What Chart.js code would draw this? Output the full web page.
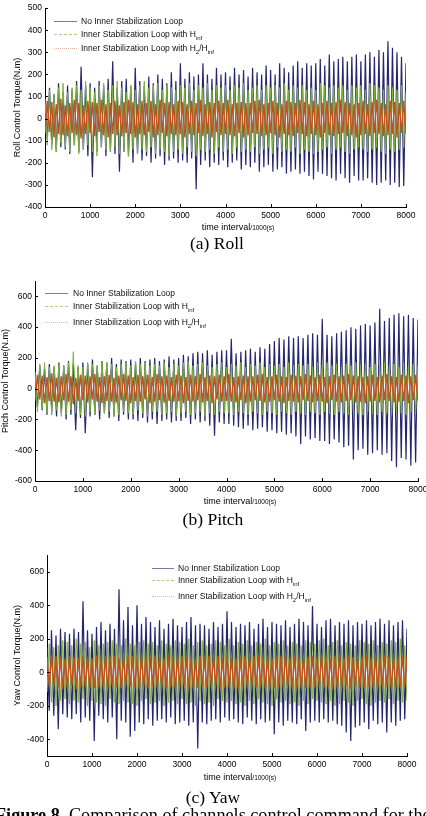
<!DOCTYPE html>
<html>
<head>
<meta charset="utf-8">
<script src="https://cdn.jsdelivr.net/npm/chart.js@4.4.0/dist/chart.umd.min.js"></script>
<style>
  html, body { margin: 0; padding: 0; background: #fff; }
  body { width: 426px; height: 816px; overflow: hidden; position: relative;
         font-family: "Liberation Sans", Arial, sans-serif; color: #000; }
  canvas { position: absolute; left: 0; }
  .xtitle { position: absolute; font-size: 9px; white-space: nowrap; transform: translate(-50%, -50%); }
  .xtitle small { font-size: 6.5px; }
  .caption { position: absolute; font-family: "Liberation Serif", "Times New Roman", serif;
             font-size: 17.5px; white-space: nowrap; transform: translate(-50%, -50%); }
  .figcap { position: absolute; left: -5px; top: 805px; line-height: 20px; white-space: nowrap;
            font-family: "Liberation Serif", "Times New Roman", serif; font-size: 18.2px; }
  .lg { position: absolute; font-size: 8.5px; line-height: 10px; white-space: nowrap; color: #111; }
  .sw { position: absolute; height: 0; }
  .lg sub { font-size: 6px; vertical-align: -3px; line-height: 0; }
</style>
</head>
<body>
<canvas id="rollChart" width="426" height="227" style="top:0px"></canvas>
<canvas id="pitchChart" width="440" height="231" style="top:270px"></canvas>
<canvas id="yawChart" width="426" height="231" style="top:545px"></canvas>

<!-- legends -->
<div class="sw" style="left:54px;top:21px;width:23px;border-top:1px solid #7a7aa2"></div>
<div class="lg" style="left:81px;top:16px">No Inner Stabilization Loop</div>
<div class="sw" style="left:54px;top:34px;width:23px;border-top:1px dashed #bcc68e"></div>
<div class="lg" style="left:81px;top:29px">Inner Stabilization Loop with H<sub>inf</sub></div>
<div class="sw" style="left:54px;top:48px;width:23px;border-top:1px dotted #e0b4a4"></div>
<div class="lg" style="left:81px;top:43px">Inner Stabilization Loop with H<sub>2</sub>/H<sub>inf</sub></div>

<div class="sw" style="left:45px;top:293px;width:23px;border-top:1px solid #7a7aa2"></div>
<div class="lg" style="left:73px;top:288px">No Inner Stabilization Loop</div>
<div class="sw" style="left:45px;top:306px;width:23px;border-top:1px dashed #bcc68e"></div>
<div class="lg" style="left:73px;top:301px">Inner Stabilization Loop with H<sub>inf</sub></div>
<div class="sw" style="left:45px;top:322px;width:23px;border-top:1px dotted #e0b4a4"></div>
<div class="lg" style="left:73px;top:317px">Inner Stabilization Loop with H<sub>2</sub>/H<sub>inf</sub></div>

<div class="sw" style="left:152px;top:568px;width:22px;border-top:1px solid #7a7aa2"></div>
<div class="lg" style="left:178px;top:563px">No Inner Stabilization Loop</div>
<div class="sw" style="left:152px;top:580px;width:22px;border-top:1px dashed #bcc68e"></div>
<div class="lg" style="left:178px;top:575px">Inner Stabilization Loop with H<sub>inf</sub></div>
<div class="sw" style="left:152px;top:596px;width:22px;border-top:1px dotted #e0b4a4"></div>
<div class="lg" style="left:178px;top:591px">Inner Stabilization Loop with H<sub>2</sub>/H<sub>inf</sub></div>

<div class="xtitle" style="left:238px;top:227px">time interval<small>/1000(s)</small></div>
<div class="xtitle" style="left:240px;top:501px">time interval<small>/1000(s)</small></div>
<div class="xtitle" style="left:240px;top:777px">time interval<small>/1000(s)</small></div>

<div class="caption" style="left:217px;top:243px">(a) Roll</div>
<div class="caption" style="left:213px;top:519px">(b) Pitch</div>
<div class="caption" style="left:213px;top:797px">(c) Yaw</div>
<div class="figcap"><b>Figure 8.</b> Comparison of channels control command for the</div>

<script>
// sample times, one every 50 units from 0 to 8000
const sampleTimes = Array.from({ length: 161 }, (_, i) => i * 50);

const timeTicks = [0, 1000, 2000, 3000, 4000, 5000, 6000, 7000, 8000];
const rollTicks = [-400, -300, -200, -100, 0, 100, 200, 300, 400, 500];
const pitchTicks = [-600, -400, -200, 0, 200, 400, 600];
const yawTicks = [-400, -200, 0, 200, 400, 600];

// Roll channel (N.m)
const rollNoLoop = [
  60,-90,140,-120,110,-150,160,-130,120,-140,
  150,-160,130,-120,170,-150,235,-140,150,-170,
  160,-265,140,-150,170,-130,150,-170,180,-150,
  260,-160,140,-240,170,-150,180,-170,150,-200,
  230,-160,170,-190,150,-170,190,-200,160,-180,
  200,-170,180,-210,160,-190,210,-180,170,-200,
  250,-190,180,-200,210,-180,190,-320,200,-210,
  250,-190,200,-220,180,-200,230,-210,200,-190,
  210,-220,190,-200,230,-190,200,-230,220,-210,
  190,-220,230,-200,210,-240,200,-220,240,-210,
  220,-240,200,-230,250,-220,230,-250,210,-240,
  240,-230,260,-250,230,-240,250,-260,240,-275,
  250,-240,270,-250,240,-260,290,-270,260,-280,
  270,-250,280,-270,260,-290,280,-260,290,-280,
  260,-280,290,-270,300,-290,280,-300,310,-290,
  300,-280,350,-300,320,-290,300,-310,280,-305,
  250
];
const rollHinf = [
  90,-120,130,-140,110,-150,140,-110,160,-130,
  120,-150,140,-120,150,-160,130,-140,170,-120,
  140,-150,120,-170,150,-130,160,-140,130,-150,
  150,-130,170,-160,140,-150,120,-170,150,-140,
  130,-160,150,-140,170,-150,140,-130,150,-160,
  160,-140,130,-150,150,-170,140,-150,130,-140,
  150,-160,140,-130,160,-150,130,-170,150,-140,
  140,-150,160,-140,130,-160,150,-130,140,-150,
  150,-140,130,-160,150,-130,140,-150,160,-140,
  130,-150,140,-130,150,-160,130,-140,150,-130,
  140,-160,150,-130,140,-150,160,-140,130,-150,
  150,-130,140,-160,150,-140,130,-150,140,-160,
  130,-150,160,-140,150,-130,140,-160,150,-140,
  140,-130,150,-150,130,-160,150,-140,140,-130,
  150,-140,130,-150,160,-140,150,-130,140,-150,
  130,-160,150,-140,140,-150,130,-140,150,-130,
  120
];
const rollH2Hinf = [
  -70,80,-60,75,-85,65,-70,90,-75,60,
  -80,70,-65,85,-75,70,-90,60,-70,80,
  -65,75,-80,70,-60,85,-75,65,-85,70,
  -70,80,-75,60,-80,75,-65,85,-70,75,
  -85,65,-70,80,-75,70,-60,80,-85,65,
  -75,85,-65,70,-80,75,-70,65,-75,80,
  -70,75,-85,65,-70,80,-75,70,-65,85,
  -80,65,-70,75,-85,70,-60,80,-75,70,
  -70,85,-75,65,-80,70,-65,75,-85,70,
  -75,70,-65,80,-70,85,-80,65,-75,70,
  -65,80,-75,70,-85,65,-70,80,-75,75,
  -80,70,-65,85,-70,75,-80,65,-70,80,
  -75,65,-85,70,-65,80,-75,70,-80,75,
  -70,85,-65,75,-80,70,-75,65,-85,70,
  -75,80,-70,65,-80,75,-65,85,-70,70,
  -80,65,-75,80,-70,75,-85,70,-65,80,
  -70
];

// Pitch channel (N.m)
const pitchNoLoop = [
  80,-120,150,-140,130,-170,160,-150,140,-180,
  170,-160,150,-200,180,-170,160,-270,140,-190,
  170,-290,160,-180,190,-170,150,-200,180,-160,
  170,-190,200,-180,160,-210,190,-170,180,-200,
  190,-200,170,-210,200,-190,180,-220,190,-200,
  200,-230,180,-210,190,-200,210,-220,190,-210,
  200,-210,220,-190,210,-230,230,-200,240,-220,
  230,-210,250,-240,220,-305,240,-220,250,-230,
  250,-230,325,-240,230,-250,240,-260,250,-240,
  260,-270,240,-260,270,-250,260,-280,290,-270,
  310,-290,330,-280,320,-300,340,-290,330,-310,
  340,-360,330,-310,350,-330,360,-320,350,-340,
  455,-340,350,-360,340,-330,360,-350,370,-380,
  380,-370,400,-460,390,-400,410,-390,420,-430,
  410,-420,430,-400,520,-430,440,-420,460,-470,
  480,-510,490,-450,470,-460,480,-500,460,-480,
  450
];
const pitchHinf = [
  110,-150,160,-130,170,-160,140,-170,150,-140,
  160,-180,150,-170,170,-140,240,-160,150,-170,
  140,-180,170,-150,160,-170,150,-140,180,-160,
  170,-150,160,-180,140,-170,160,-150,170,-160,
  150,-170,180,-140,160,-160,170,-180,150,-150,
  160,-150,150,-170,170,-160,140,-150,160,-180,
  150,-160,170,-150,180,-170,150,-160,160,-150,
  170,-180,150,-160,140,-170,160,-150,170,-160,
  140,-160,160,-170,150,-150,170,-160,140,-170,
  160,-150,150,-160,170,-170,140,-150,160,-160,
  150,-170,160,-150,140,-160,170,-170,150,-150,
  160,-160,150,-170,160,-150,140,-160,170,-170,
  150,-150,170,-160,150,-170,160,-150,140,-160,
  160,-170,150,-150,170,-160,150,-170,160,-150,
  140,-160,160,-170,150,-150,170,-160,150,-170,
  160,-150,140,-160,170,-170,150,-150,160,-160,
  150
];
const pitchH2Hinf = [
  -80,90,-70,85,-95,75,-80,100,-85,70,
  -90,80,-75,95,-85,80,-100,70,-80,90,
  -75,85,-90,80,-70,95,-85,75,-95,80,
  -80,90,-85,70,-90,85,-75,95,-80,85,
  -95,75,-80,90,-85,80,-70,90,-95,75,
  -85,95,-75,80,-90,85,-80,75,-85,90,
  -80,85,-95,75,-80,90,-85,80,-75,95,
  -90,75,-80,85,-95,80,-70,90,-85,80,
  -80,95,-85,75,-90,80,-75,85,-95,80,
  -85,80,-75,90,-80,95,-90,75,-85,80,
  -75,90,-85,80,-95,75,-80,90,-85,85,
  -90,80,-75,95,-80,85,-90,75,-80,90,
  -85,75,-95,80,-75,90,-85,80,-90,85,
  -80,95,-75,85,-90,80,-85,75,-95,80,
  -85,90,-80,75,-90,85,-75,95,-80,80,
  -90,75,-85,90,-80,85,-95,80,-75,90,
  -80
];

// Yaw channel (N.m)
const yawNoLoop = [
  150,-230,250,-260,220,-340,260,-250,240,-270,
  230,-280,260,-250,240,-300,424,-270,250,-290,
  230,-410,270,-260,300,-280,250,-300,290,-270,
  260,-400,495,-290,310,-300,390,-385,280,-350,
  400,-300,290,-310,330,-280,300,-320,270,-290,
  310,-280,260,-300,290,-270,320,-310,280,-300,
  270,-290,300,-320,330,-300,280,-455,290,-300,
  280,-310,260,-290,300,-280,270,-300,290,-270,
  364,-290,300,-280,270,-300,290,-310,280,-270,
  300,-290,260,-310,290,-280,320,-300,270,-290,
  300,-370,290,-300,280,-320,310,-290,270,-300,
  290,-310,320,-280,300,-350,280,-300,395,-290,
  290,-300,270,-280,310,-300,320,-290,280,-310,
  300,-320,290,-360,310,-410,280,-330,300,-320,
  290,-300,310,-340,280,-290,300,-310,320,-300,
  290,-360,310,-300,280,-320,300,-290,310,-280,
  260
];
const yawHinf = [
  -120,170,-180,150,-200,160,-170,190,-160,180,
  -190,160,-170,200,-180,170,-160,180,-200,150,
  -170,190,-180,160,-190,170,-200,180,-160,190,
  -180,170,-190,160,-170,200,-180,170,-190,160,
  -200,180,-170,190,-160,170,-190,180,-180,160,
  -170,190,-200,170,-180,160,-170,190,-190,180,
  -160,170,-190,200,-180,160,-200,180,-170,190,
  -190,160,-180,170,-200,190,-160,180,-170,160,
  -180,200,-170,160,-190,180,-180,170,-200,190,
  -170,160,-190,180,-160,170,-180,200,-190,160,
  -200,180,-160,170,-180,190,-170,160,-190,180,
  -180,170,-200,160,-170,190,-190,180,-160,170,
  -170,190,-180,200,-190,160,-170,180,-200,190,
  -190,160,-170,180,-180,170,-200,160,-170,190,
  -160,180,-190,170,-200,190,-180,160,-170,180,
  -180,170,-160,190,-190,180,-170,200,-180,160,
  -170
];
const yawH2Hinf = [
  90,-85,100,-80,95,-90,85,-100,80,-95,
  95,-80,90,-100,85,-90,100,-85,80,-95,
  85,-95,100,-90,80,-85,95,-100,90,-80,
  100,-90,85,-95,90,-80,100,-85,95,-90,
  80,-100,95,-85,90,-95,85,-80,100,-90,
  90,-85,80,-95,100,-90,85,-100,90,-85,
  95,-80,90,-100,85,-95,80,-90,100,-85,
  85,-95,100,-80,90,-85,95,-100,80,-90,
  100,-90,85,-95,80,-100,90,-85,95,-80,
  90,-85,95,-90,100,-80,85,-95,90,-100,
  80,-95,90,-85,95,-90,100,-80,85,-95,
  95,-100,80,-90,85,-95,90,-85,100,-90,
  85,-80,100,-95,90,-85,80,-100,95,-90,
  100,-90,85,-80,95,-100,90,-85,80,-95,
  90,-95,100,-85,80,-90,95,-100,85,-80,
  95,-85,90,-100,85,-95,80,-90,100,-85,
  90
];

const BLUE = "#26266f";
const GREEN = "#80b040";
const RED = "#c4501c";
const TICK_FONT = { family: "Liberation Sans", size: 8.5 };

// matlab style tick marks pointing into the plot
const inwardTicks = {
  id: "inwardTicks",
  afterDatasetsDraw(chart) {
    const ctx = chart.ctx;
    const area = chart.chartArea;
    const xs = chart.scales.x;
    const ys = chart.scales.y;
    ctx.save();
    ctx.strokeStyle = "#000";
    ctx.lineWidth = 1;
    ctx.beginPath();
    xs.ticks.forEach((t) => {
      const px = Math.round(xs.getPixelForValue(t.value)) + 0.5;
      ctx.moveTo(px, area.bottom);
      ctx.lineTo(px, area.bottom - 3);
    });
    ys.ticks.forEach((t) => {
      const py = Math.round(ys.getPixelForValue(t.value)) + 0.5;
      ctx.moveTo(area.left, py);
      ctx.lineTo(area.left + 3, py);
    });
    ctx.stroke();
    ctx.restore();
  },
};

function line(label, data, color, width, order) {
  return {
    label: label,
    data: data,
    borderColor: color,
    borderWidth: width,
    pointRadius: 0,
    tension: 0,
    fill: false,
    order: order,
  };
}

function makeChart(id, cfg) {
  return new Chart(document.getElementById(id), {
    type: "line",
    data: {
      labels: sampleTimes,
      datasets: [
        line("No Inner Stabilization Loop", cfg.blue, BLUE, 1.2, 3),
        line("Inner Stabilization Loop with Hinf", cfg.green, GREEN, 1, 2),
        line("Inner Stabilization Loop with H2/Hinf", cfg.red, RED, 1.4, 1),
      ],
    },
    options: {
      responsive: false,
      animation: false,
      events: [],
      layout: { padding: { top: cfg.padTop, right: cfg.padRight, left: 0, bottom: 0 } },
      plugins: { legend: { display: false }, tooltip: { enabled: false } },
      scales: {
        x: {
          type: "linear",
          min: 0,
          max: 8000,
          grid: { display: false, drawTicks: false },
          border: { display: true, color: "#000", width: 1 },
          ticks: { color: "#000", font: TICK_FONT, padding: 4, maxRotation: 0, autoSkip: false,
                   callback: (v) => String(v) },
          afterBuildTicks: (scale) => { scale.ticks = timeTicks.map((v) => ({ value: v })); },
          afterFit: (scale) => { scale.height = 20; },
        },
        y: {
          min: cfg.yMin,
          max: cfg.yMax,
          grid: { display: false, drawTicks: false },
          border: { display: true, color: "#000", width: 1 },
          ticks: { color: "#000", font: TICK_FONT, padding: 3, callback: (v) => String(v) },
          afterBuildTicks: (scale) => { scale.ticks = cfg.yTicks.map((v) => ({ value: v })); },
          title: {
            display: true,
            text: cfg.yTitle,
            color: "#000",
            font: { family: "Liberation Sans", size: 9 },
            padding: { top: cfg.titlePad, bottom: 0 },
          },
          afterFit: (scale) => { scale.width = cfg.axisLeft; },
        },
      },
    },
    plugins: [inwardTicks],
  });
}

const rollChart = makeChart("rollChart", {
  blue: rollNoLoop, green: rollHinf, red: rollH2Hinf,
  yMin: -400, yMax: 500, yTicks: rollTicks, yTitle: "Roll Control Torque(N.m)",
  padTop: 8, padRight: 20, axisLeft: 45, titlePad: 12.4,
});
const pitchChart = makeChart("pitchChart", {
  blue: pitchNoLoop, green: pitchHinf, red: pitchH2Hinf,
  yMin: -600, yMax: 700, yTicks: pitchTicks, yTitle: "Pitch Control Torque(N.m)",
  padTop: 11, padRight: 22, axisLeft: 35, titlePad: 0,
});
const yawChart = makeChart("yawChart", {
  blue: yawNoLoop, green: yawHinf, red: yawH2Hinf,
  yMin: -500, yMax: 700, yTicks: yawTicks, yTitle: "Yaw Control Torque(N.m)",
  padTop: 10, padRight: 19, axisLeft: 47, titlePad: 12.4,
});
</script>
</body>
</html>
